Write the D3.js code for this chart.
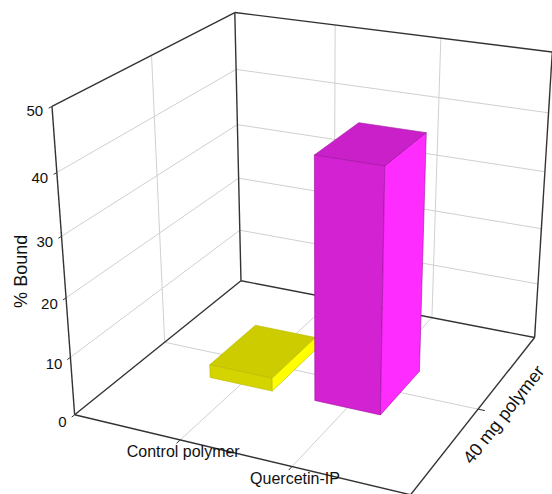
<!DOCTYPE html>
<html>
<head>
<meta charset="utf-8">
<script src="https://cdn.jsdelivr.net/npm/d3@7"></script>
<style>
  body { margin: 0; background: #fff; }
  svg { display: block; font-family: Arial, "Liberation Sans", Helvetica, sans-serif; }
</style>
</head>
<body>
<svg id="chart" width="552" height="494"></svg>
<script>
/* data */
const categories = ['Control polymer', 'Quercetin-IP'];
const series = ['40 mg polymer'];
const values = [2.3, 41];          // % bound, one bar per category
const yTicks = [0, 10, 20, 30, 40, 50];
const yTitle = '% Bound';

/* face colours: top, front, side */
const barColors = [
  { top: '#cccc00', front: '#d4d400', side: '#ffff00', edge: '#b8b800' },
  { top: '#c920c9', front: '#d222d2', side: '#ff2cff', edge: '#a010a0' }
];

/* box size in world units */
const W = 1, D = 0.998, H = 0.8885;

/* camera (looking down from front-right) */
const deg = Math.PI / 180;
const eye = [2.303, 2.199, -3.348];
const yaw = 24.86 * deg, pitch = 25.55 * deg;
const focal = 1652, cx = 321.6, cy = 322;

const fh = [-Math.sin(yaw), 0, Math.cos(yaw)];
const rt = [Math.cos(yaw), 0, Math.sin(yaw)];
const fw = [Math.cos(pitch) * fh[0], -Math.sin(pitch), Math.cos(pitch) * fh[2]];
const up = [Math.sin(pitch) * fh[0], Math.cos(pitch), Math.sin(pitch) * fh[2]];
const dot = (a, b) => a[0] * b[0] + a[1] * b[1] + a[2] * b[2];

function project([x, y, z]) {
  const v = [x - eye[0], y - eye[1], z - eye[2]];
  const zf = dot(v, fw);
  return [cx + focal * dot(v, rt) / zf, cy - focal * dot(v, up) / zf];
}

/* scales */
const xScale = d3.scalePoint().domain(categories).range([0, W]).padding(1);
const zScale = d3.scalePoint().domain(series).range([0, D]).padding(0.5);
const yScale = d3.scaleLinear().domain([0, 50]).range([0, H]);

const svg = d3.select('#chart');
const line = d3.line();
const poly = pts => line(pts.map(project)) + 'Z';
const seg = (a, b) => line([project(a), project(b)]);

/* walls */
const walls = [
  [[0, 0, 0], [0, 0, D], [0, H, D], [0, H, 0]],
  [[0, 0, D], [W, 0, D], [W, H, D], [0, H, D]],
  [[0, 0, 0], [W, 0, 0], [W, 0, D], [0, 0, D]]
];
svg.append('g').selectAll('path').data(walls).enter()
  .append('path').attr('d', poly).attr('fill', '#fff');

/* grid lines */
const grid = [];
yTicks.slice(1, -1).forEach(t => {
  const y = yScale(t);
  grid.push([[0, y, 0], [0, y, D]]);
  grid.push([[0, y, D], [W, y, D]]);
});
categories.forEach(c => {
  const x = xScale(c);
  grid.push([[x, 0, D], [x, H, D]]);
  grid.push([[x, 0, 0], [x, 0, D]]);
});
series.forEach(s => {
  const z = zScale(s);
  grid.push([[0, 0, z], [0, H, z]]);
  grid.push([[0, 0, z], [W, 0, z]]);
});
svg.append('g').selectAll('path').data(grid).enter()
  .append('path').attr('d', d => seg(d[0], d[1]))
  .attr('stroke', '#d0d0d0').attr('stroke-width', 1).attr('fill', 'none');

/* box edges */
const edges = [
  [[0, 0, 0], [0, H, 0]], [[0, H, 0], [0, H, D]], [[0, 0, D], [0, H, D]],
  [[0, H, D], [W, H, D]], [[W, 0, D], [W, H, D]], [[0, 0, D], [W, 0, D]],
  [[0, 0, 0], [0, 0, D]]
];
svg.append('g').selectAll('path').data(edges).enter()
  .append('path').attr('d', d => seg(d[0], d[1]))
  .attr('stroke', '#333').attr('stroke-width', 1.4).attr('fill', 'none');

/* bars, far one first */
const bw = xScale.step() * 0.6, bd = zScale.step() * 0.29;
const bars = categories.map((c, i) => ({ c, v: values[i], col: barColors[i] }));
const barG = svg.append('g');
bars.forEach(b => {
  const x0 = xScale(b.c) - bw / 2, x1 = xScale(b.c) + bw / 2;
  const z0 = zScale(series[0]) - bd / 2, z1 = zScale(series[0]) + bd / 2;
  const y1 = yScale(b.v);
  const faces = [
    { pts: [[x0, y1, z0], [x1, y1, z0], [x1, y1, z1], [x0, y1, z1]], fill: b.col.top },
    { pts: [[x0, 0, z0], [x1, 0, z0], [x1, y1, z0], [x0, y1, z0]], fill: b.col.front },
    { pts: [[x1, 0, z0], [x1, 0, z1], [x1, y1, z1], [x1, y1, z0]], fill: b.col.side }
  ];
  barG.append('g').selectAll('path').data(faces).enter()
    .append('path').attr('d', d => poly(d.pts))
    .attr('fill', d => d.fill)
    .attr('stroke', b.col.edge).attr('stroke-width', 0.6)
    .attr('stroke-linejoin', 'round');
});

/* front edges of the floor */
const front = [[[0, 0, 0], [W, 0, 0]], [[W, 0, 0], [W, 0, D]]];
svg.append('g').selectAll('path').data(front).enter()
  .append('path').attr('d', d => seg(d[0], d[1]))
  .attr('stroke', '#333').attr('stroke-width', 1.4).attr('fill', 'none');

/* y axis ticks and labels */
const yAxis = svg.append('g');
yAxis.selectAll('path').data(yTicks).enter()
  .append('path').attr('d', t => seg([0, yScale(t), 0], [0, yScale(t), -0.015]))
  .attr('stroke', '#333').attr('stroke-width', 1);
yAxis.selectAll('text').data(yTicks).enter()
  .append('text')
  .attr('x', t => project([0, yScale(t), -0.04])[0])
  .attr('y', t => project([0, yScale(t), -0.04])[1])
  .attr('text-anchor', 'end').attr('dominant-baseline', 'central')
  .attr('font-size', 15).attr('fill', '#111')
  .text(t => t);

const mid = project([0, yScale(25), 0]);
svg.append('text')
  .attr('transform', `translate(${mid[0] - 43},${mid[1] + 4}) rotate(-90)`)
  .attr('text-anchor', 'middle').attr('dominant-baseline', 'central')
  .attr('font-size', 18).attr('fill', '#111')
  .text(yTitle);

/* category labels along the front edge */
svg.append('g').selectAll('path').data(categories).enter()
  .append('path').attr('d', c => seg([xScale(c), 0, 0], [xScale(c), 0, -0.02]))
  .attr('stroke', '#333').attr('stroke-width', 1);
svg.append('g').selectAll('text').data(categories).enter()
  .append('text')
  .attr('x', c => project([xScale(c), 0, 0])[0] + 3)
  .attr('y', c => project([xScale(c), 0, 0])[1] + 12)
  .attr('text-anchor', 'middle').attr('dominant-baseline', 'central')
  .attr('font-size', 16).attr('fill', '#111')
  .text(c => c);

/* series label along the right floor edge */
const e0 = project([W, 0, 0]), e1 = project([W, 0, D]);
const ang = Math.atan2(e1[1] - e0[1], e1[0] - e0[0]) / deg;
series.forEach(s => {
  const z = zScale(s);
  svg.append('path').attr('d', seg([W, 0, z], [W + 0.02, 0, z]))
    .attr('stroke', '#333').attr('stroke-width', 1);
  const p = project([W + 0.075, 0, z]);
  svg.append('text')
    .attr('transform', `translate(${p[0]},${p[1]}) rotate(${ang})`)
    .attr('text-anchor', 'middle').attr('dominant-baseline', 'central')
    .attr('font-size', 18).attr('fill', '#111')
    .text(s);
});
</script>
</body>
</html>
